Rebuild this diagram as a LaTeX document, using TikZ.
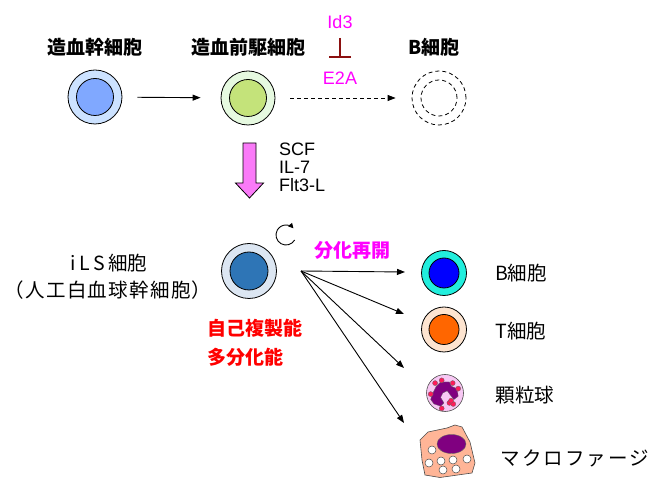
\documentclass[tikz,border=0pt]{standalone}
\usepackage{fontspec}
\setmainfont{Liberation Sans}
\newfontfamily\jp{Noto Sans CJK JP}
\usetikzlibrary{arrows.meta}

\definecolor{hscout}{HTML}{CCE2FF}
\definecolor{hscin}{HTML}{80A8FF}
\definecolor{progout}{HTML}{E6F9E0}
\definecolor{progin}{HTML}{C4E37A}
\definecolor{ilsout}{HTML}{DCE6F2}
\definecolor{ilsin}{HTML}{2E75B6}
\definecolor{bout}{HTML}{22EEDD}
\definecolor{bin}{HTML}{0000FF}
\definecolor{tout}{HTML}{FDE4D0}
\definecolor{tin}{HTML}{FF6600}
\definecolor{granfill}{HTML}{F8C8F4}
\definecolor{nucleus}{HTML}{800080}
\definecolor{granule}{HTML}{FF1A5A}
\definecolor{macro}{HTML}{FFB597}
\definecolor{pinkarrow}{HTML}{FA7AF8}
\definecolor{mag}{HTML}{FF00FF}
\definecolor{inhib}{HTML}{8B1010}

\newcommand\kgap{\kern2pt}
\newcommand\sgap{\kern1.3pt}

\tikzset{
  outercell/.style={circle, draw=black, line width=0.8pt, minimum size=#1, inner sep=0pt},
  innercell/.style={circle, draw=black, line width=0.8pt, minimum size=#1, inner sep=0pt},
  ghost/.style={circle, draw=black, dashed, dash pattern=on 4pt off 3pt, line width=0.8pt, minimum size=#1, inner sep=0pt},
  lbl/.style={font=\jp\bfseries\fontsize{19}{21}\selectfont, inner sep=0pt},
  lblreg/.style={font=\jp\fontsize{19.5}{21}\selectfont, inner sep=0pt},
  latin/.style={font=\fontsize{18}{19}\selectfont, inner sep=0pt},
  arr/.style={line width=0.9pt, -{Triangle[length=8pt,width=6pt]}},
}

\begin{document}
\begin{tikzpicture}[x=1pt,y=1pt]
\useasboundingbox (0,0) rectangle (653,479);

% ---- top row: haematopoietic stem cell, progenitor, B cell ----
\node[outercell=54pt, fill=hscout] (hsc) at (95,382) {};
\node[innercell=37pt, fill=hscin] (hscn) at (hsc) {};
\node[lbl] (hsclbl) at (95,432) {造血幹細胞};

\node[outercell=54pt, fill=progout] (prog) at (248,381) {};
\node[innercell=37pt, fill=progin] (progn) at (prog) {};
\node[lbl] (proglbl) at (248,432) {造血前駆細胞};

\node[ghost=54pt] (bghost) at (439,381) {};
\node[ghost=36pt] (bghostn) at (bghost) {};
\node[lbl] (bghostlbl) at (434,432) {B細胞};

\draw[arr, shorten <=15pt, shorten >=20pt] (hsc) -- (prog);
\draw[arr, dashed, dash pattern=on 4pt off 3pt, shorten <=15pt, shorten >=16pt] (prog) -- (bghost);

% Id3 inhibits E2A
\node[latin, text=mag] (id3) at (340,457) {Id3};
\node[latin, text=mag] (e2a) at (340,401) {E2A};
\draw[inhib, line width=1.2pt, -{Bar[width=22pt,line width=1.6pt]}, shorten <=16pt, shorten >=20pt] (id3.center) -- (e2a.center);

% ---- induction step ----
\coordinate (pa) at (249.5,336);
\fill[pinkarrow, draw=black, line width=0.8pt]
  (pa) ++(-6.5,0) -- ++(13,0) -- ++(0,-40) -- ++(7.5,0) -- ++(-14,-15)
  -- ++(-14,15) -- ++(7.5,0) -- cycle;
\node[latin, anchor=west, align=left] (cyto) at (279,312)
  {SCF\\[-1pt]IL-7\\[-1pt]Flt3-L};

% ---- iLS cell ----
\node[outercell=55pt, fill=ilsout] (ils) at (249,208) {};
\node[innercell=38pt, fill=ilsin] (ilsn) at (ils) {};
\node[lblreg] (ilslbl) at (109,216) {i\,L\,S\,細胞};
\node[lblreg] (ilslbl2) at (108,189)
  {（\sgap 人\sgap 工\sgap 白\sgap 血\sgap 球\sgap 幹\sgap 細\sgap 胞\sgap ）};

\node[lbl, text=red, anchor=west] (selfren) at (207,151) {自己複製能};
\node[lbl, text=red, anchor=west] (multi) at (207,122) {多分化能};

% self-renewal loop
\coordinate (selfc) at (286,244);
\draw[line width=0.9pt, -{Triangle[length=5pt,width=5pt]}]
  (selfc) ++(-30:10) arc[start angle=-30, end angle=-318, radius=10];

\node[lbl, text=mag] (restart) at (352,229) {分化再開};

% ---- differentiated progeny ----
\node[outercell=45pt, fill=bout] (bcell) at (444,206) {};
\node[innercell=30pt, fill=bin] (bcelln) at (bcell) {};
\node[lblreg] (bcelllbl) at (521,206) {B細胞};

\node[outercell=45pt, fill=tout] (tcell) at (444,149.5) {};
\node[innercell=30pt, fill=tin] (tcelln) at (tcell) {};
\node[lblreg] (tcelllbl) at (521,148) {T細胞};

% granulocyte
\node[circle, draw=black!70, line width=0.6pt, fill=granfill, minimum size=37pt, inner sep=0pt] (gran) at (445,86) {};
\begin{scope}[shift={(gran.center)}, scale=1.1]
  \fill[nucleus, draw=black!60, line width=0.3pt]
    (-12,-2) -- (-8,6) -- (-4,10) -- (4,10) -- (6,6) -- (11,4) -- (12,-3)
    -- (8,-6) -- (5,-2) -- (2,2) -- (-2,0) -- (-4,-4) -- (-1,-9)
    -- (-4,-12) -- (-10,-10) -- (-13,-6) -- cycle;
  \foreach \p in {(-9,9),(-3,11.5),(7,9),(12,4),(-13,-1),(4,-9),(7.5,-10),(-3,-14),(5.5,-7)}
    \fill[granule, draw=black!60, line width=0.3pt] \p circle (2.3);
\end{scope}
\node[lblreg] (granlbl) at (525,84) {顆粒球};

% macrophage
\fill[macro, draw=black!70, line width=0.6pt]
  (420,39) -- (428,47) -- (447,51) -- (455,54) -- (462,52) -- (470,37)
  -- (475,16) -- (472,6) -- (440,1.5) -- (425,4) -- (422,19) -- cycle;
\fill[nucleus, draw=black!60, line width=0.4pt] (451.5,35) ellipse [x radius=14.5, y radius=9.5];
\foreach \p in {(432,29),(429,16),(441,18),(443,9),(453,19),(456,10),(467,20)}
  \fill[white, draw=black!70, line width=0.5pt] \p circle (4);
\node[lblreg] (maclbl) at (575,21) {マ\kgap ク\kgap ロ\kgap フ\kgap ァ\kgap ー\kgap ジ};

% ---- differentiation fan ----
\coordinate (fan) at (301,208);
\coordinate (toB) at (405,207);
\coordinate (toT) at (404,165);
\coordinate (toG) at (404,111);
\coordinate (toM) at (404,56);
\draw[arr] (fan) -- (toB);
\draw[arr] (fan) -- (toT);
\draw[arr] (fan) -- (toG);
\draw[arr] (fan) -- (toM);
\end{tikzpicture}
\end{document}
